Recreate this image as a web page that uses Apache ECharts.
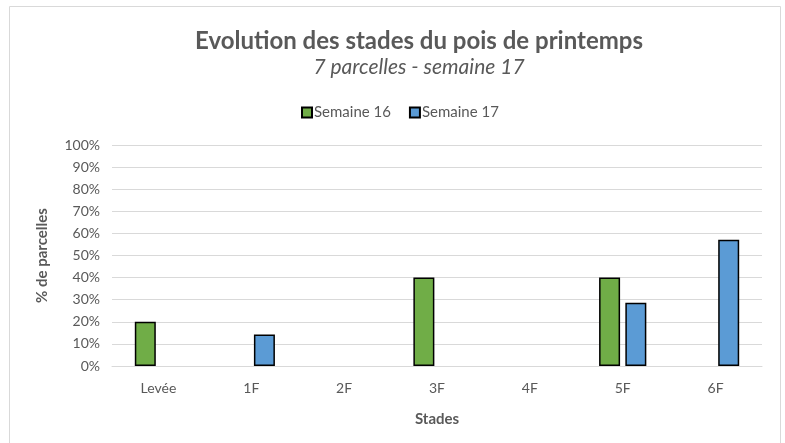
<!DOCTYPE html>
<html>
<head>
<meta charset="utf-8">
<script src="https://cdn.jsdelivr.net/npm/echarts@6/dist/echarts.min.js"></script>
<style>
  html, body { margin: 0; padding: 0; background: #fff; }
  #chart { width: 785px; height: 443px; }
</style>
</head>
<body>
<div id="chart"></div>
<script>
// stades et valeurs (% de parcelles), null = aucune parcelle
const stades = ['Levée', '1F', '2F', '3F', '4F', '5F', '6F'];
const semaine16 = [20, null, null, 40, null, 40, null];
const semaine17 = [null, 14.3, null, null, null, 28.6, 57.1];

const chart = echarts.init(document.getElementById('chart'));
const font = 'Lato, "Open Sans", sans-serif';
const grey = '#595959';

chart.setOption({
  animation: false,
  textStyle: { fontFamily: font },
  graphic: [{
    type: 'rect',
    shape: { x: 9.5, y: 6.5, width: 771, height: 450 },
    style: { fill: 'none', stroke: '#d9d9d9', lineWidth: 1 },
    silent: true
  }],
  title: {
    text: 'Evolution des stades du pois de printemps',
    subtext: '7 parcelles - semaine 17',
    left: 414,
    textAlign: 'center',
    top: 24,
    itemGap: 4,
    textStyle: { fontFamily: font, fontSize: 24, fontWeight: 'bold', color: grey },
    subtextStyle: { fontFamily: font, fontSize: 21, fontStyle: 'italic', color: grey }
  },
  legend: {
    top: 100,
    left: 296,
    icon: 'rect',
    itemWidth: 10,
    itemHeight: 10,
    itemGap: 18,
    textStyle: { fontFamily: font, fontSize: 15, color: grey, padding: [0, 0, 0, -3] },
    data: ['Semaine 16', 'Semaine 17']
  },
  grid: { left: 112, right: 23, top: 145, bottom: 77 },
  xAxis: {
    type: 'category',
    data: stades,
    name: 'Stades',
    nameLocation: 'middle',
    nameGap: 46,
    nameTextStyle: { fontFamily: font, fontSize: 15, fontWeight: 'bold', color: grey },
    axisLine: { lineStyle: { color: '#d9d9d9', width: 1 } },
    axisTick: { show: false },
    axisLabel: { fontSize: 14, color: grey, margin: 15 }
  },
  yAxis: {
    type: 'value',
    min: 0,
    max: 100,
    interval: 10,
    name: '% de parcelles',
    nameLocation: 'middle',
    nameGap: 62,
    nameTextStyle: { fontFamily: font, fontSize: 15, fontWeight: 'bold', color: grey },
    axisLine: { show: false },
    axisTick: { show: false },
    axisLabel: { fontSize: 14, color: grey, margin: 12, formatter: '{value}%' },
    splitLine: { lineStyle: { color: '#d9d9d9', width: 1 } }
  },
  series: [
    {
      name: 'Semaine 16',
      type: 'bar',
      data: semaine16,
      barWidth: 21,
      barGap: '25%',
      itemStyle: { color: '#70AD47', borderColor: '#000', borderWidth: 1.5 }
    },
    {
      name: 'Semaine 17',
      type: 'bar',
      data: semaine17,
      barWidth: 21,
      itemStyle: { color: '#5B9BD5', borderColor: '#000', borderWidth: 1.5 }
    }
  ]
});
</script>
</body>
</html>
